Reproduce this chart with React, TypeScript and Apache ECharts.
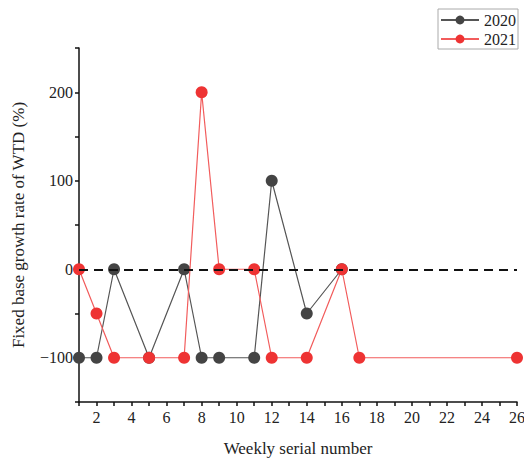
import React, { useEffect, useRef } from "react";
import * as echarts from "echarts";

const weeks2020 = [1, 2, 3, 5, 7, 8, 9, 11, 12, 14, 16];
const values2020 = [-100, -100, 0, -100, 0, -100, -100, -100, 100, -50, 0];
const weeks2021 = [1, 2, 3, 5, 7, 8, 9, 11, 12, 14, 16, 17, 26];
const values2021 = [0, -50, -100, -100, -100, 200, 0, 0, -100, -100, 0, -100, -100];
const seriesNames = ["2020", "2021"];
const xTitle = "Weekly serial number";
const yTitle = "Fixed base growth rate of WTD (%)";

const FONT = "'Liberation Serif', 'Times New Roman', serif";

export default function App() {
  const ref = useRef<HTMLDivElement>(null);
  useEffect(() => {
    if (!ref.current) return;
    const chart = echarts.init(ref.current, undefined, { renderer: "svg" });
    const d2020 = weeks2020.map((w, i) => [w, values2020[i]]);
    const d2021 = weeks2021.map((w, i) => [w, values2021[i]]);
    chart.setOption({
      animation: false,
      backgroundColor: "#ffffff",
      grid: { left: 79, right: 7, top: 48, bottom: 59, outerBoundsMode: "none", containLabel: false },
      legend: {
        orient: "vertical",
        right: 6,
        top: 9,
        borderColor: "#aaaaaa",
        borderWidth: 1,
        padding: [3, 2, 2, 2],
        itemGap: 3,
        itemWidth: 38,
        itemHeight: 11,
        textStyle: { fontFamily: FONT, fontSize: 16, color: "#222" },
        data: seriesNames,
      },
      xAxis: {
        type: "value",
        min: 1,
        max: 26,
        interval: 1,
        name: xTitle,
        nameLocation: "middle",
        nameGap: 38,
        nameTextStyle: { fontFamily: FONT, fontSize: 17, color: "#222" },
        axisLine: { onZero: false, lineStyle: { color: "#111", width: 1.5 } },
        axisTick: { show: true, length: 4, lineStyle: { color: "#111", width: 1.5 } },
        axisLabel: {
          fontFamily: FONT,
          fontSize: 16,
          color: "#222",
          margin: 7,
          showMaxLabel: true,
          hideOverlap: false,
          formatter: (v: number) => (v % 2 === 0 ? String(v) : ""),
        },
        splitLine: { show: false },
      },
      yAxis: {
        type: "value",
        min: -150,
        max: 250,
        interval: 50,
        name: yTitle,
        nameLocation: "middle",
        nameGap: 52,
        nameTextStyle: { fontFamily: FONT, fontSize: 17, color: "#222" },
        axisLine: { show: true, lineStyle: { color: "#111", width: 1.5 } },
        axisTick: { show: true, length: 4, lineStyle: { color: "#111", width: 1.5 } },
        axisLabel: {
          fontFamily: FONT,
          fontSize: 16,
          color: "#222",
          margin: 6,
          formatter: (v: number) =>
            v % 100 === 0 ? (v < 0 ? "\u2212" + Math.abs(v) : String(v)) : "",
        },
        splitLine: { show: false },
      },
      series: [
        {
          name: seriesNames[0],
          type: "line",
          data: d2020,
          symbol: "circle",
          symbolSize: 12,
          itemStyle: { color: "#444444" },
          lineStyle: { color: "#555555", width: 1.2 },
          z: 3,
          markLine: {
            silent: true,
            symbol: ["none", "none"],
            label: { show: false },
            lineStyle: { color: "#111", type: [9, 6], width: 2 },
            data: [{ yAxis: 0 }],
          },
        },
        {
          name: seriesNames[1],
          type: "line",
          data: d2021,
          symbol: "circle",
          symbolSize: 12,
          itemStyle: { color: "#ee3333" },
          lineStyle: { color: "#f25c5c", width: 1.2 },
          z: 4,
        },
      ],
    });
    return () => chart.dispose();
  }, []);
  return <div ref={ref} style={{ width: 524, height: 461, position: "absolute", left: 0, top: 0 }} />;
}
